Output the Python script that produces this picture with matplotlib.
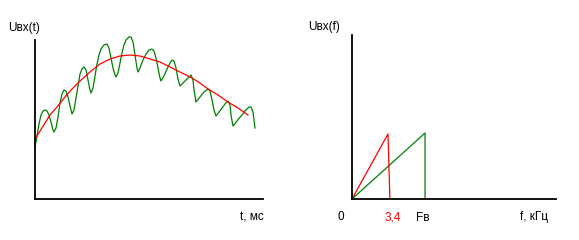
import matplotlib
matplotlib.use('Agg')
import matplotlib.pyplot as plt

plt.rcParams['font.family'] = ['Liberation Sans', 'DejaVu Sans']

# %% Data
# left: input signal vs time (arbitrary units)
t_sig = [0, 2, 4, 6, 8, 10, 12, 14, 16, 18, 19, 21, 23, 25, 27, 29, 31, 33, 35, 37,
         39, 41, 43, 45, 47, 49, 51, 53, 55, 56, 58, 60, 62, 64, 66, 69, 72, 74, 76, 78,
         80, 81, 83, 85, 87, 89, 91, 94, 96, 98, 100, 102, 103, 105, 108, 111, 114, 117, 119, 121,
         123, 125, 126, 129, 132, 135, 137, 139, 141, 143, 145, 148, 151, 154, 156, 158, 159, 161, 165, 169,
         173, 175, 177, 179, 181, 184, 187, 190, 193, 195, 196, 198, 202, 206, 210, 214, 216, 218, 219, 220]
u_sig = [52, 63, 75, 84, 88, 89, 88, 84, 77, 69, 67, 71, 82, 96, 105, 109, 108, 102, 93, 85,
         89, 101, 113, 125, 130, 132, 129, 119, 109, 106, 111, 123, 135, 144, 150, 154, 155, 151, 141, 131,
         124, 122, 126, 136, 146, 154, 159, 162, 162, 157, 144, 131, 127, 131, 139, 145, 149, 150, 148, 141,
         131, 121, 118, 123, 130, 136, 139, 138, 131, 120, 113, 116, 119, 122, 124, 119, 109, 97, 102, 107,
         110, 108, 99, 89, 83, 87, 91, 95, 98, 94, 84, 73, 78, 83, 88, 92, 92, 87, 79, 71]

t_env = [0, 5, 10, 15, 22, 30, 37, 45, 55, 65, 75, 85, 95, 105, 115, 125, 135, 145, 157, 165,
         173, 183, 193, 203, 213]
u_env = [60, 68, 76, 84, 92, 102, 110, 118, 127, 135, 140, 143, 144, 143, 140, 137, 132, 127, 121, 116,
         110, 104, 97, 91, 84]

# right: spectra, f in kHz
f_red = [0, 3.4, 3.58]
s_red = [0, 65, 0]
f_green = [0, 6.9, 6.9]
s_green = [0, 66, 0]

W, H = 579, 240
fig = plt.figure(figsize=(W / 100, H / 100), dpi=100)

green = '#008000'
red = '#ff0000'


def bare_axes(rect):
    ax = fig.add_axes(rect)
    for s in ['top', 'right']:
        ax.spines[s].set_visible(False)
    for s in ['left', 'bottom']:
        ax.spines[s].set_linewidth(1.3)
    ax.set_xticks([])
    ax.set_yticks([])
    ax.patch.set_alpha(0)
    return ax


# %% Left: time domain
ax1 = bare_axes([35 / W, 41 / H, 228 / W, 159 / H])
ax1.plot(t_sig, u_sig, color=green, lw=0.9, clip_on=False)
ax1.plot(t_env, u_env, color=red, lw=0.9, clip_on=False)
ax1.set_xlim(0, 228)
ax1.set_ylim(0, 159)

# %% Right: spectrum
ax2 = bare_axes([352 / W, 41 / H, 204 / W, 164 / H])
ax2.plot(f_green, s_green, color=green, lw=0.9)
ax2.plot(f_red, s_red, color=red, lw=0.9)
ax2.set_xlim(0, 19.27)
ax2.set_ylim(0, 164)

fs = 8.5
def label(x, y, s, **kw):
    fig.text(x / W, 1 - y / H, s, fontsize=fs, va='center', **kw)

label(8, 28, 'Uвх(t)')
label(240, 218, 't, мс')
label(308, 27, 'Uвх(f)')
label(338, 217, '0')
label(385, 217, '3,4', color=red)
label(416, 218, 'Fв')
label(520, 217, 'f, кГц')

fig.savefig('out.png', dpi=100)
